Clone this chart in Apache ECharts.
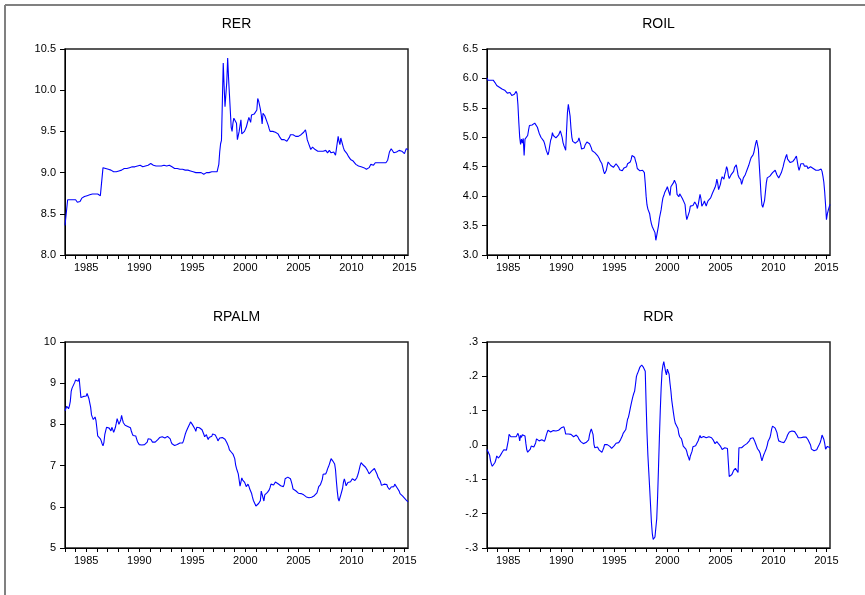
<!DOCTYPE html>
<html><head><meta charset="utf-8">
<script src="https://cdn.jsdelivr.net/npm/echarts@6/dist/echarts.min.js"></script>
<style>html,body{margin:0;padding:0;background:#fff}#c{width:865px;height:595px}</style>
</head><body><div id="c"></div>
<script>
// Monthly observations 1983M01 .. 2015M05
const startYear = 1983;
const nMonths = 389;
const months = [];
for (let i = 0; i < nMonths; i++) {
  const y = startYear + Math.floor(i / 12), m = i % 12 + 1;
  months.push(y + '-' + (m < 10 ? '0' : '') + m);
}
const titles = ['RER', 'ROIL', 'RPALM', 'RDR'];

const rer = [
8.36,8.35,8.37,8.67,8.67,8.66,8.67,8.67,8.68,8.67,8.68,8.68,
8.67,8.65,8.64,8.64,8.64,8.65,8.67,8.69,8.70,8.71,8.71,8.72,
8.71,8.72,8.73,8.74,8.73,8.73,8.74,8.74,8.73,8.74,8.74,8.75,
8.75,8.74,8.74,8.73,8.72,8.72,8.72,9.06,9.05,9.05,9.05,9.04,
9.05,9.04,9.04,9.04,9.03,9.03,9.02,9.01,9.01,9.01,9.01,9.02,
9.02,9.02,9.02,9.03,9.03,9.04,9.04,9.05,9.05,9.05,9.05,9.06,
9.06,9.06,9.06,9.06,9.07,9.07,9.07,9.07,9.07,9.08,9.08,9.08,
9.08,9.09,9.09,9.08,9.07,9.07,9.08,9.08,9.09,9.09,9.09,9.10,
9.10,9.11,9.10,9.10,9.09,9.08,9.08,9.08,9.08,9.08,9.08,9.08,
9.08,9.08,9.08,9.09,9.09,9.09,9.08,9.08,9.09,9.09,9.09,9.09,
9.09,9.07,9.05,9.05,9.05,9.05,9.05,9.05,9.05,9.04,9.04,9.04,
9.04,9.04,9.04,9.03,9.03,9.03,9.03,9.03,9.02,9.02,9.02,9.02,
9.02,9.01,9.01,9.00,9.00,9.00,9.00,9.00,9.00,9.00,9.00,9.00,
8.99,8.98,8.99,9.00,9.00,9.00,9.00,9.00,9.01,9.01,9.01,9.01,
9.01,9.01,9.01,9.01,9.01,9.02,9.10,9.25,9.35,9.39,9.40,10.33,
10.05,9.80,9.82,10.10,10.39,10.15,9.95,9.75,9.55,9.50,9.60,9.66,
9.66,9.64,9.60,9.40,9.45,9.50,9.52,9.64,9.47,9.48,9.49,9.50,
9.52,9.55,9.59,9.63,9.67,9.69,9.61,9.70,9.71,9.72,9.71,9.71,
9.72,9.76,9.90,9.87,9.85,9.77,9.70,9.59,9.72,9.70,9.69,9.66,
9.63,9.60,9.57,9.53,9.50,9.52,9.51,9.50,9.51,9.52,9.49,9.47,
9.48,9.47,9.45,9.43,9.41,9.40,9.41,9.42,9.40,9.39,9.39,9.38,
9.38,9.40,9.43,9.46,9.48,9.47,9.46,9.46,9.45,9.44,9.43,9.43,
9.44,9.45,9.46,9.46,9.47,9.48,9.49,9.50,9.52,9.47,9.40,9.37,
9.34,9.31,9.28,9.27,9.31,9.30,9.29,9.28,9.28,9.27,9.26,9.25,
9.25,9.26,9.26,9.27,9.26,9.25,9.26,9.27,9.25,9.24,9.25,9.27,
9.26,9.24,9.23,9.24,9.25,9.23,9.21,9.20,9.22,9.44,9.38,9.34,
9.42,9.40,9.34,9.30,9.27,9.26,9.25,9.23,9.21,9.19,9.18,9.16,
9.15,9.15,9.14,9.13,9.12,9.10,9.09,9.09,9.08,9.08,9.07,9.07,
9.07,9.06,9.06,9.05,9.04,9.04,9.03,9.04,9.06,9.07,9.10,9.09,
9.08,9.09,9.10,9.12,9.14,9.13,9.12,9.12,9.12,9.12,9.12,9.12,
9.12,9.12,9.12,9.12,9.13,9.15,9.20,9.25,9.27,9.29,9.28,9.27,
9.24,9.23,9.26,9.25,9.23,9.25,9.27,9.26,9.25,9.26,9.26,9.24,
9.23,9.26,9.29,9.28,9.28
];

const roil = [
6.01,5.97,5.96,5.96,5.97,5.97,5.97,5.97,5.95,5.93,5.90,5.88,
5.86,5.86,5.85,5.85,5.83,5.82,5.80,5.80,5.80,5.79,5.77,5.75,
5.73,5.75,5.76,5.74,5.71,5.69,5.71,5.73,5.75,5.78,5.74,5.55,
5.25,5.00,4.88,4.97,4.90,4.98,4.69,4.97,4.98,4.99,5.03,5.12,
5.20,5.17,5.19,5.21,5.22,5.22,5.24,5.25,5.21,5.17,5.12,5.07,
5.04,5.00,4.98,4.99,4.94,4.90,4.84,4.78,4.74,4.70,4.76,4.86,
4.95,4.99,5.08,5.03,5.04,5.04,4.99,4.99,5.02,5.04,5.05,5.11,
5.08,5.00,4.91,4.86,4.82,4.78,5.11,5.42,5.56,5.53,5.36,5.15,
5.00,4.93,4.91,4.91,4.90,4.90,4.92,4.94,4.99,4.96,4.88,4.80,
4.79,4.78,4.82,4.87,4.90,4.92,4.93,4.90,4.89,4.88,4.82,4.77,
4.74,4.74,4.74,4.73,4.72,4.69,4.67,4.64,4.60,4.58,4.55,4.49,
4.42,4.38,4.40,4.44,4.52,4.58,4.60,4.55,4.52,4.55,4.52,4.49,
4.51,4.52,4.55,4.56,4.56,4.49,4.45,4.42,4.43,4.43,4.45,4.48,
4.47,4.46,4.50,4.55,4.57,4.55,4.58,4.62,4.69,4.70,4.70,4.66,
4.60,4.55,4.47,4.49,4.45,4.43,4.42,4.43,4.44,4.46,4.40,4.22,
4.00,3.85,3.78,3.76,3.70,3.60,3.53,3.48,3.50,3.46,3.38,3.25,
3.22,3.26,3.50,3.62,3.65,3.77,3.88,3.97,4.01,4.06,4.08,4.12,
4.16,4.15,4.19,4.01,4.16,4.18,4.15,4.23,4.27,4.28,4.20,4.03,
4.04,3.99,4.04,4.01,4.04,3.96,3.95,3.94,3.86,3.70,3.60,3.58,
3.60,3.74,3.83,3.82,3.83,3.84,3.85,3.90,3.93,3.85,3.79,3.86,
3.95,4.03,3.96,3.83,3.81,3.88,3.92,3.87,3.83,3.88,3.92,3.93,
3.95,3.97,4.00,4.05,4.08,4.07,4.15,4.20,4.29,4.22,4.11,4.14,
4.20,4.28,4.33,4.32,4.29,4.37,4.42,4.50,4.46,4.35,4.30,4.32,
4.36,4.37,4.34,4.42,4.49,4.50,4.53,4.45,4.36,4.32,4.33,4.28,
4.20,4.25,4.31,4.34,4.36,4.40,4.44,4.47,4.52,4.55,4.62,4.66,
4.67,4.70,4.75,4.83,4.90,4.95,4.94,4.80,4.53,4.28,4.02,3.85,
3.81,3.84,3.93,4.08,4.23,4.31,4.30,4.31,4.34,4.33,4.37,4.40,
4.43,4.41,4.44,4.42,4.36,4.33,4.31,4.31,4.33,4.40,4.45,4.50,
4.57,4.62,4.67,4.71,4.63,4.61,4.60,4.57,4.56,4.57,4.59,4.60,
4.63,4.66,4.68,4.65,4.50,4.44,4.49,4.55,4.56,4.52,4.55,4.51,
4.53,4.53,4.51,4.47,4.46,4.49,4.50,4.50,4.48,4.47,4.47,4.47,
4.44,4.46,4.44,4.44,4.45,4.47,4.46,4.42,4.34,4.24,4.07,3.85,
3.60,3.70,3.76,3.73,3.86
];

const rpalm = [
8.33,8.37,8.44,8.43,8.38,8.45,8.56,8.80,8.88,8.89,8.90,9.02,
9.08,9.09,9.06,9.05,9.12,8.89,8.65,8.66,8.68,8.68,8.66,8.66,
8.69,8.75,8.71,8.63,8.52,8.42,8.23,8.17,8.12,8.15,8.18,8.10,
7.92,7.72,7.69,7.68,7.65,7.60,7.53,7.48,7.56,7.75,7.84,7.93,
7.89,7.90,7.91,7.89,7.84,7.93,7.88,7.81,7.86,7.93,8.03,8.14,
8.15,8.00,8.04,8.10,8.22,8.12,8.04,8.01,7.98,7.97,7.98,7.95,
7.94,7.95,7.92,7.84,7.78,7.73,7.69,7.69,7.72,7.65,7.58,7.54,
7.51,7.52,7.52,7.50,7.52,7.50,7.51,7.51,7.51,7.57,7.65,7.68,
7.68,7.64,7.60,7.57,7.59,7.59,7.57,7.57,7.60,7.63,7.66,7.68,
7.69,7.71,7.70,7.68,7.68,7.67,7.69,7.68,7.71,7.70,7.68,7.65,
7.58,7.53,7.50,7.52,7.49,7.45,7.47,7.51,7.49,7.47,7.55,7.52,
7.59,7.55,7.60,7.68,7.76,7.82,7.85,7.92,7.96,8.01,8.06,8.05,
8.00,7.98,7.99,7.89,7.83,7.93,7.92,7.89,7.92,7.92,7.89,7.87,
7.84,7.76,7.70,7.71,7.75,7.68,7.63,7.68,7.71,7.68,7.71,7.77,
7.80,7.78,7.74,7.70,7.66,7.60,7.64,7.67,7.69,7.68,7.68,7.68,
7.66,7.64,7.60,7.56,7.52,7.46,7.38,7.34,7.33,7.31,7.28,7.24,
7.17,7.02,6.93,6.89,6.80,6.65,6.50,6.60,6.70,6.65,6.61,6.60,
6.55,6.49,6.46,6.55,6.50,6.43,6.39,6.33,6.24,6.16,6.14,6.12,
6.02,6.05,6.00,6.08,6.07,6.15,6.38,6.40,6.22,6.14,6.29,6.33,
6.32,6.35,6.37,6.41,6.47,6.55,6.55,6.51,6.53,6.57,6.60,6.62,
6.59,6.56,6.55,6.53,6.51,6.47,6.47,6.49,6.55,6.68,6.71,6.67,
6.72,6.74,6.74,6.68,6.61,6.53,6.43,6.46,6.42,6.39,6.37,6.35,
6.33,6.33,6.34,6.32,6.30,6.30,6.29,6.29,6.28,6.24,6.22,6.21,
6.22,6.22,6.22,6.23,6.23,6.23,6.27,6.30,6.29,6.34,6.41,6.49,
6.52,6.54,6.58,6.66,6.79,6.83,6.80,6.80,6.85,6.92,6.97,7.03,
7.10,7.17,7.15,7.11,7.08,7.04,6.90,6.62,6.38,6.20,6.14,6.22,
6.29,6.33,6.45,6.60,6.68,6.60,6.51,6.55,6.59,6.56,6.58,6.61,
6.65,6.68,6.69,6.67,6.64,6.67,6.70,6.76,6.83,6.92,7.01,7.07,
7.07,7.02,6.99,6.99,6.96,6.93,6.89,6.86,6.80,6.79,6.82,6.87,
6.87,6.89,6.93,6.95,6.89,6.79,6.72,6.71,6.65,6.60,6.52,6.51,
6.55,6.55,6.53,6.51,6.54,6.48,6.44,6.42,6.45,6.48,6.50,6.47,
6.49,6.55,6.56,6.52,6.45,6.41,6.38,6.32,6.30,6.29,6.26,6.22,
6.21,6.20,6.16,6.14,6.12
];

const rdr = [
-0.013,-0.008,-0.016,-0.030,-0.046,-0.056,-0.062,-0.064,-0.061,-0.051,-0.043,-0.032,
-0.031,-0.038,-0.040,-0.031,-0.026,-0.022,-0.019,-0.014,-0.013,-0.015,-0.015,-0.012,
0.012,0.031,0.029,0.024,0.023,0.024,0.024,0.024,0.025,0.024,0.029,0.034,
0.027,0.012,0.028,0.022,0.030,0.029,0.031,0.026,0.004,-0.014,-0.021,-0.019,
-0.016,-0.012,-0.003,0.002,-0.003,-0.006,-0.004,0.006,0.018,0.021,0.015,0.012,
0.014,0.010,0.015,0.014,0.012,0.011,0.018,0.028,0.036,0.043,0.046,0.042,
0.038,0.037,0.042,0.042,0.039,0.043,0.041,0.043,0.045,0.043,0.042,0.047,
0.050,0.052,0.055,0.053,0.044,0.032,0.030,0.032,0.032,0.031,0.029,0.031,
0.031,0.028,0.024,0.022,0.026,0.029,0.031,0.023,0.017,0.012,0.010,0.007,
0.007,0.004,0.002,0.004,0.007,0.003,0.005,0.015,0.030,0.040,0.047,0.044,
0.030,0.002,-0.008,-0.004,-0.007,-0.006,-0.010,-0.015,-0.017,-0.018,-0.021,-0.015,
-0.008,0.001,0.004,0.002,0.001,0.000,-0.001,-0.004,-0.008,-0.010,-0.009,-0.007,
-0.002,0.001,0.005,0.006,0.004,0.007,0.011,0.015,0.019,0.026,0.034,0.034,
0.032,0.045,0.060,0.075,0.081,0.093,0.106,0.118,0.130,0.141,0.150,0.157,
0.177,0.199,0.207,0.213,0.220,0.227,0.231,0.233,0.230,0.226,0.221,0.215,
0.120,0.034,-0.030,-0.078,-0.125,-0.175,-0.225,-0.258,-0.275,-0.273,-0.268,-0.265,
-0.215,-0.150,-0.066,0.020,0.100,0.166,0.213,0.232,0.243,0.228,0.214,0.204,
0.221,0.222,0.206,0.180,0.158,0.130,0.111,0.092,0.075,0.063,0.058,0.058,
0.048,0.032,0.024,0.025,0.018,0.008,-0.003,-0.003,-0.008,-0.012,-0.019,-0.030,
-0.036,-0.045,-0.032,-0.027,-0.018,-0.005,-0.003,-0.001,-0.002,-0.002,0.003,0.013,
0.021,0.028,0.021,0.020,0.023,0.025,0.023,0.025,0.021,0.022,0.023,0.024,
0.023,0.022,0.021,0.016,0.014,0.010,0.004,0.006,0.010,0.006,0.003,0.000,
-0.003,-0.006,-0.013,-0.008,-0.010,-0.008,-0.008,-0.009,-0.010,-0.008,-0.092,-0.090,
-0.087,-0.086,-0.080,-0.074,-0.071,-0.068,-0.068,-0.070,-0.080,-0.008,-0.003,-0.009,
-0.008,-0.005,-0.003,-0.001,-0.003,0.000,0.004,0.002,0.006,0.013,0.019,0.022,
0.022,0.021,0.016,0.010,0.003,-0.004,-0.011,-0.015,-0.018,-0.024,-0.036,-0.046,
-0.042,-0.029,-0.023,-0.019,-0.010,-0.001,0.011,0.015,0.021,0.032,0.046,0.055,
0.055,0.051,0.049,0.048,0.036,0.022,0.012,0.008,0.009,0.009,0.006,0.004,
0.007,0.012,0.016,0.022,0.029,0.034,0.038,0.041,0.041,0.041,0.040,0.039,
0.039,0.038,0.034,0.027,0.021,0.018,0.016,0.021,0.023,0.023,0.023,0.023,
0.021,0.023,0.021,0.016,0.012,0.012,0.000,-0.012,-0.016,-0.017,-0.017,-0.016,
-0.016,-0.014,-0.008,-0.003,0.002,0.008,0.017,0.029,0.026,0.017,0.005,-0.012,
-0.015,-0.004,-0.005,-0.006,-0.008
];

const yMin = [8, 3, 5, -0.3];
const yMax = [10.5, 6.5, 10, 0.3];
const yStep = [0.5, 0.5, 1, 0.1];
const seriesData = [rer, roil, rpalm, rdr];

const FONT = '"Liberation Sans", Arial, Helvetica, sans-serif';
const grids = [
  {left: 65, top: 49, width: 343, height: 206},
  {left: 487, top: 49, width: 343, height: 206},
  {left: 65, top: 342, width: 343, height: 206},
  {left: 487, top: 342, width: 343, height: 206}
];

function yFmt(k) {
  if (k === 0 || k === 1) return v => v.toFixed(1);
  if (k === 2) return v => String(Math.round(v));
  return v => (Math.round(v * 10) / 10).toFixed(1).replace('0.', '.');
}

const option = {
  animation: false,
  backgroundColor: '#fff',
  grid: grids.map(g => Object.assign({show: true, borderColor: '#222', borderWidth: 1.5, backgroundColor: 'transparent', containLabel: false}, g)),
  xAxis: grids.map((g, k) => ({
    type: 'category', gridIndex: k, data: months, boundaryGap: false,
    axisLine: {show: true, onZero: false, lineStyle: {color: '#000', width: 1}},
    axisTick: {show: true, inside: false, length: 4, lineStyle: {color: '#000'},
      interval: (i, v) => v.endsWith('-01')},
    axisLabel: {show: true, color: '#000', fontSize: 11, fontFamily: FONT, margin: 7,
      interval: (i, v) => v.endsWith('-01') && (+v.slice(0, 4)) % 5 === 0,
      formatter: v => v.slice(0, 4)},
    splitLine: {show: false}
  })),
  yAxis: grids.map((g, k) => ({
    type: 'value', gridIndex: k, min: yMin[k], max: yMax[k], interval: yStep[k],
    axisLine: {show: true, onZero: false, lineStyle: {color: '#000', width: 1}},
    axisTick: {show: true, inside: false, length: 5, lineStyle: {color: '#000'}},
    axisLabel: {show: true, color: '#000', fontSize: 11, fontFamily: FONT, margin: 9, formatter: yFmt(k)},
    splitLine: {show: false}
  })),
  series: seriesData.map((d, k) => ({
    type: 'line', xAxisIndex: k, yAxisIndex: k, data: d,
    symbol: 'none', showSymbol: false, smooth: false,
    lineStyle: {color: '#0000ff', width: 1.1}, itemStyle: {color: '#0000ff'}
  })),
  graphic: [
    {type: 'line', shape: {x1: 5, y1: 5, x2: 865, y2: 5}, style: {stroke: '#808080', lineWidth: 2}},
    {type: 'line', shape: {x1: 5, y1: 5, x2: 5, y2: 595}, style: {stroke: '#808080', lineWidth: 2}}
  ].concat(titles.map((t, k) => ({
    type: 'text', x: grids[k].left + grids[k].width / 2, y: grids[k].top - 25,
    style: {text: t, fill: '#000', font: '14px ' + FONT, textAlign: 'center', textVerticalAlign: 'middle'}
  })))
};

const chart = echarts.init(document.getElementById('c'), null, {renderer: 'canvas'});
chart.setOption(option);
</script>
</body></html>
